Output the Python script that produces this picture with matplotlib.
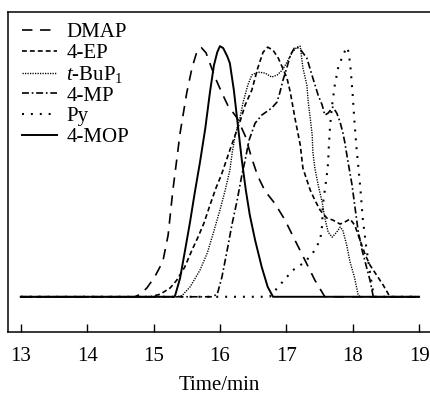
import matplotlib
matplotlib.use("Agg")
import matplotlib.pyplot as plt

plt.rcParams['font.family'] = ['Liberation Serif', 'DejaVu Serif']
plt.rcParams['mathtext.fontset'] = 'custom'
plt.rcParams['mathtext.rm'] = 'Liberation Serif'
plt.rcParams['mathtext.it'] = 'Liberation Serif:italic'
plt.rcParams['lines.scale_dashes'] = False

# retention time (min) / normalised detector signal
dmap_t = [13.0, 14.72, 14.80, 14.90, 15.02, 15.14, 15.22, 15.29, 15.40, 15.50, 15.58,
          15.66, 15.72, 15.79, 15.93, 16.03, 16.12, 16.26, 16.38, 16.48, 16.57,
          16.68, 16.83, 16.98, 17.13, 17.28, 17.43, 17.58, 19.0]
dmap_y = [0.0, 0.0, 0.01, 0.035, 0.08, 0.14, 0.245, 0.42, 0.65, 0.81, 0.91,
          0.98, 0.99, 0.97, 0.87, 0.81, 0.76, 0.71, 0.64, 0.55, 0.48,
          0.42, 0.37, 0.305, 0.225, 0.146, 0.066, 0.0, 0.0]

ep_t = [13.0, 14.95, 15.10, 15.25, 15.35, 15.47, 15.58, 15.67, 15.76, 15.85, 15.94,
        16.02, 16.15, 16.30, 16.38, 16.48, 16.57, 16.65, 16.72, 16.80, 16.88,
        16.94, 17.01, 17.06, 17.13, 17.21, 17.25, 17.36, 17.43, 17.51, 17.61,
        17.70, 17.81, 17.88, 17.96, 18.03, 18.11, 18.19, 18.26, 18.37, 18.46,
        18.56, 19.0]
ep_y = [0.0, 0.0, 0.01, 0.035, 0.066, 0.118, 0.186, 0.237, 0.293, 0.364, 0.432,
        0.483, 0.583, 0.694, 0.762, 0.821, 0.909, 0.972, 0.992, 0.98, 0.948,
        0.912, 0.869, 0.813, 0.71, 0.603, 0.511, 0.424, 0.384, 0.344, 0.313,
        0.305, 0.289, 0.297, 0.309, 0.285, 0.225, 0.166, 0.126, 0.082, 0.046,
        0.0, 0.0]

tbu_t = [13.0, 15.35, 15.43, 15.55, 15.70, 15.81, 15.90, 16.00, 16.08, 16.15, 16.18,
         16.23, 16.30, 16.35, 16.42, 16.48, 16.57, 16.68, 16.78, 16.86, 16.94,
         17.01, 17.09, 17.16, 17.21, 17.25, 17.31, 17.33, 17.36, 17.39, 17.40,
         17.43, 17.48, 17.54, 17.58, 17.63, 17.69, 17.76, 17.81, 17.85, 17.91,
         17.96, 18.03, 18.08, 18.11, 19.0]
tbu_y = [0.0, 0.0, 0.005, 0.039, 0.106, 0.174, 0.253, 0.344, 0.424, 0.503, 0.563,
         0.642, 0.71, 0.774, 0.841, 0.881, 0.893, 0.889, 0.873, 0.881, 0.901,
         0.932, 0.972, 0.992, 0.996, 0.909, 0.841, 0.774, 0.71, 0.642, 0.575,
         0.511, 0.444, 0.376, 0.313, 0.257, 0.237, 0.257, 0.277, 0.265, 0.205,
         0.138, 0.074, 0.01, 0.0, 0.0]

mp_t = [13.0, 15.88, 15.96, 16.03, 16.11, 16.18, 16.26, 16.33, 16.38, 16.44, 16.53,
        16.63, 16.78, 16.86, 16.90, 16.95, 17.01, 17.06, 17.12, 17.16, 17.22,
        17.31, 17.40, 17.48, 17.54, 17.58, 17.63, 17.70, 17.76, 17.81, 17.85,
        17.88, 17.93, 17.99, 18.03, 18.08, 18.14, 18.20, 18.26, 18.31, 19.0]
mp_y = [0.0, 0.0, 0.01, 0.078, 0.186, 0.285, 0.384, 0.483, 0.543, 0.623, 0.69,
        0.722, 0.75, 0.774, 0.809, 0.861, 0.912, 0.96, 0.988, 0.992, 0.98,
        0.948, 0.869, 0.801, 0.762, 0.722, 0.73, 0.754, 0.73, 0.694, 0.654,
        0.615, 0.535, 0.444, 0.364, 0.265, 0.186, 0.126, 0.066, 0.0, 0.0]

py_t = [13.0, 16.75, 16.90, 17.10, 17.28, 17.40, 17.51, 17.54, 17.55, 17.58, 17.61,
        17.63, 17.64, 17.66, 17.69, 17.73, 17.78, 17.84, 17.91, 17.94, 17.97,
        18.00, 18.03, 18.06, 18.09, 18.12, 18.15, 18.20, 18.25, 18.29, 18.32, 19.0]
py_y = [0.0, 0.0, 0.046, 0.106, 0.138, 0.174, 0.225, 0.285, 0.364, 0.424, 0.483,
        0.535, 0.595, 0.682, 0.762, 0.841, 0.909, 0.952, 0.992, 0.972, 0.901,
        0.801, 0.682, 0.583, 0.503, 0.416, 0.313, 0.205, 0.114, 0.046, 0.0, 0.0]

mop_t = [13.0, 15.32, 15.40, 15.47, 15.55, 15.62, 15.70, 15.78, 15.85, 15.91, 15.96,
         16.00, 16.05, 16.11, 16.15, 16.21, 16.27, 16.33, 16.39, 16.45, 16.53,
         16.63, 16.72, 16.80, 19.0]
mop_y = [0.0, 0.0, 0.074, 0.177, 0.297, 0.412, 0.535, 0.67, 0.813, 0.92, 0.972,
         0.996, 0.988, 0.956, 0.928, 0.821, 0.682, 0.543, 0.424, 0.325, 0.225,
         0.118, 0.039, 0.0, 0.0]

xticks = [13, 14, 15, 16, 17, 18, 19]

fig = plt.figure(figsize=(4.3, 3.96), dpi=100)
ax = fig.add_axes([0.0193, 0.1616, 0.9807, 0.807])

ax.plot(dmap_t, dmap_y, color='black', lw=1.2, dashes=(7.5, 5.5), label='DMAP')
ax.plot(ep_t, ep_y, color='black', lw=1.2, dashes=(3.5, 2.2), label='4-EP')
ax.plot(tbu_t, tbu_y, color='black', lw=1.0, dashes=(0.9, 0.9),
        label=r'$\mathit{t}$-BuP$_1$')
ax.plot(mp_t, mp_y, color='black', lw=1.2, dashes=(5, 2, 1.2, 2), label='4-MP')
ax.plot(py_t, py_y, color='black', lw=1.5, dashes=(1.4, 5), label='Py')
ax.plot(mop_t, mop_y, color='black', lw=1.4, label='4-MOP')

ax.set_xlim(12.813, 19.164)
ax.set_ylim(-0.14, 1.13)
ax.set_xticks(xticks)
ax.set_yticks([])
ax.tick_params(axis='x', direction='in', length=6, width=1.0, pad=11, labelsize=15)
for s in ['left', 'top', 'bottom']:
    ax.spines[s].set_linewidth(1.1)
ax.spines['right'].set_visible(False)
ax.set_xlabel('Time/min', fontsize=15, labelpad=7)

ax.legend(loc='upper left', bbox_to_anchor=(0.012, 0.994), frameon=False, fontsize=15,
          handlelength=1.7, handletextpad=0.45, labelspacing=0.05, borderaxespad=0.0)

fig.savefig('out.png', dpi=100)
